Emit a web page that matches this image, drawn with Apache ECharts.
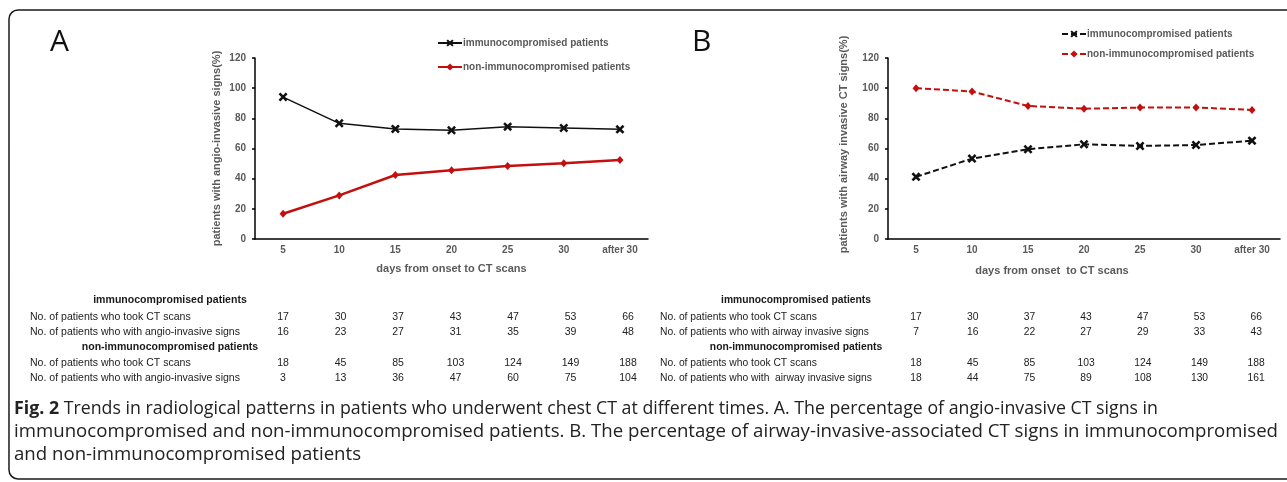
<!DOCTYPE html>
<html><head><meta charset="utf-8">
<script src="https://cdn.jsdelivr.net/npm/echarts/dist/echarts.min.js"></script>
<style>html,body{margin:0;padding:0;background:#fff}#c{width:1287px;height:482px}</style>
</head><body><div id="c"></div>
<script>
// ---------- data ----------
const categories = ['5', '10', '15', '20', '25', '30', 'after 30'];
const aImmuno = [94.1, 76.7, 73.0, 72.1, 74.5, 73.6, 72.7];
const aNonImmuno = [16.7, 28.9, 42.4, 45.6, 48.4, 50.3, 52.3];
const bImmuno = [41.2, 53.3, 59.5, 62.8, 61.7, 62.3, 65.2];
const bNonImmuno = [100, 97.8, 88.2, 86.4, 87.1, 87.2, 85.6];
const yMin = 0, yMax = 120, yStep = 20;
const seriesNames = ['immunocompromised patients', 'non-immunocompromised patients'];

const immunoCT = [17, 30, 37, 43, 47, 53, 66];
const aImmunoSigns = [16, 23, 27, 31, 35, 39, 48];
const nonCT = [18, 45, 85, 103, 124, 149, 188];
const aNonSigns = [3, 13, 36, 47, 60, 75, 104];
const bImmunoSigns = [7, 16, 22, 27, 29, 33, 43];
const bNonSigns = [18, 44, 75, 89, 108, 130, 161];

const tableA = [
  {head: 'immunocompromised patients'},
  {label: 'No. of patients who took CT scans', vals: immunoCT},
  {label: 'No. of patients who with angio-invasive signs', vals: aImmunoSigns},
  {head: 'non-immunocompromised patients'},
  {label: 'No. of patients who took CT scans', vals: nonCT},
  {label: 'No. of patients who with angio-invasive signs', vals: aNonSigns}
];
const tableB = [
  {head: 'immunocompromised patients'},
  {label: 'No. of patients who took CT scans', vals: immunoCT},
  {label: 'No. of patients who with airway invasive signs', vals: bImmunoSigns},
  {head: 'non-immunocompromised patients'},
  {label: 'No. of patients who took CT scans', vals: nonCT},
  {label: 'No. of patients who with  airway invasive signs', vals: bNonSigns}
];
const captionBold = 'Fig. 2';
const captionLines = [
  ' Trends in radiological patterns in patients who underwent chest CT at different times. A. The percentage of angio-invasive CT signs in',
  'immunocompromised and non-immunocompromised patients. B. The percentage of airway-invasive-associated CT signs in immunocompromised',
  'and non-immunocompromised patients'
];

// ---------- helpers ----------
const cv = document.createElement('canvas').getContext('2d');
function tw(text, font) { cv.font = font; return cv.measureText(text).width; }

const BLACK = '#111111', RED = '#c40f0f', GREY = '#5a5a5a';
const FONT = 'Liberation Sans, Arial, sans-serif';
const X_SYMBOL = 'path://M2,0L5,3L8,0L10,2L7,5L10,8L8,10L5,7L2,10L0,8L3,5L0,2Z';

const chart = echarts.init(document.getElementById('c'), null, {renderer: 'canvas'});

function xAxisCfg(gi, name, gap, pad) {
  return {
    type: 'category', gridIndex: gi, data: categories, boundaryGap: true,
    axisLine: {lineStyle: {color: '#000', width: 1.5}},
    axisTick: {inside: true, length: 3, lineStyle: {color: '#000', width: 1.5}},
    axisLabel: {color: GREY, fontSize: 10, fontWeight: 'bold', fontFamily: FONT, margin: 6},
    name: name, nameLocation: 'middle', nameGap: gap,
    nameTextStyle: {color: GREY, fontSize: 11, fontWeight: 'bold', fontFamily: FONT, padding: pad}
  };
}
function yAxisCfg(gi, name, gap, pad) {
  return {
    type: 'value', gridIndex: gi, min: yMin, max: yMax, interval: yStep,
    axisLine: {show: true, lineStyle: {color: '#000', width: 1.5}},
    axisTick: {show: true, length: 3, lineStyle: {color: '#000', width: 1.5}},
    splitLine: {show: false},
    axisLabel: {color: GREY, fontSize: 10, fontWeight: 'bold', fontFamily: FONT, margin: 9},
    name: name, nameLocation: 'middle', nameGap: gap,
    nameTextStyle: {color: GREY, fontSize: 11, fontWeight: 'bold', fontFamily: FONT, padding: pad}
  };
}
function lineSeries(name, gi, data, color, sym, symSize, width, dashed) {
  return {
    name: name, type: 'line', xAxisIndex: gi, yAxisIndex: gi, data: data,
    symbol: sym, symbolSize: symSize, showSymbol: true,
    lineStyle: {color: color, width: width, type: dashed ? [6, 3] : 'solid'},
    itemStyle: {color: color}, emphasis: {disabled: true}
  };
}

const legendText = {color: GREY, fontSize: 10, fontWeight: 'bold', fontFamily: FONT, lineHeight: 12,
                    padding: [0, 0, 0, -4]};

const option = {
  animation: false,
  backgroundColor: '#fff',
  grid: [
    {left: 255, top: 58, width: 393, height: 181},
    {left: 888, top: 58, width: 392, height: 181}
  ],
  xAxis: [xAxisCfg(0, 'days from onset to CT scans', 24, [0, 0, 0, 0]),
          xAxisCfg(1, 'days from onset  to CT scans', 26, [0, 64, 0, 0])],
  yAxis: [yAxisCfg(0, 'patients with angio-invasive signs(%)', 33, [0, 0, 0, 0]),
          yAxisCfg(1, 'patients with airway invasive CT signs(%)', 39, [0, 0, 0, 8])],
  legend: [
    {data: seriesNames.map(n => 'A:' + n), formatter: n => n.slice(2), orient: 'vertical',
     left: 432, top: 32, itemWidth: 24, itemHeight: 9, itemGap: 12, textStyle: legendText,
     selectedMode: false},
    {data: seriesNames.map(n => 'B:' + n), formatter: n => n.slice(2), orient: 'vertical',
     left: 1056, top: 23, itemWidth: 24, itemHeight: 9, itemGap: 8, textStyle: legendText,
     selectedMode: false}
  ],
  series: [
    lineSeries('A:' + seriesNames[0], 0, aImmuno, BLACK, X_SYMBOL, 9, 1.5, false),
    lineSeries('A:' + seriesNames[1], 0, aNonImmuno, RED, 'diamond', [7, 8], 2.5, false),
    lineSeries('B:' + seriesNames[0], 1, bImmuno, BLACK, X_SYMBOL, 9, 2, true),
    lineSeries('B:' + seriesNames[1], 1, bNonImmuno, RED, 'diamond', [7, 8], 2, true)
  ]
};
chart.setOption(option);

// ---------- graphics: frame, panel letters, tables, caption ----------
const g = [];
g.push({type: 'rect', shape: {x: 9, y: 10, width: 1320, height: 469, r: 9}, silent: true,
        style: {fill: 'none', stroke: '#1a1a1a', lineWidth: 1.5}});
g.push({type: 'text', x: 50, y: 27, style: {text: 'A', font: '30px "Open Sans", sans-serif', fill: '#111'}});
g.push({type: 'text', x: 692, y: 27, style: {text: 'B', font: '30px "Open Sans", sans-serif', fill: '#111'}});

const TFONT = '11px ' + FONT, TBFONT = 'bold 11px ' + FONT;
function addTable(rows, labelX, headCx, colX0, colStep, refLabel, refW) {
  const sx = refW / tw(refLabel, TFONT);
  const rowY = [300, 317, 332, 347, 363, 378];
  rows.forEach((r, i) => {
    if (r.head) {
      g.push({type: 'text', x: headCx, y: rowY[i], scaleX: sx,
        style: {text: r.head, font: TBFONT, fill: '#1a1a1a', align: 'center', verticalAlign: 'middle'}});
    } else {
      g.push({type: 'text', x: labelX, y: rowY[i], scaleX: sx,
        style: {text: r.label, font: TFONT, fill: '#222', align: 'left', verticalAlign: 'middle'}});
      r.vals.forEach((v, j) => {
        g.push({type: 'text', x: colX0 + j * colStep, y: rowY[i], scaleX: sx,
          style: {text: String(v), font: TFONT, fill: '#222', align: 'center', verticalAlign: 'middle'}});
      });
    }
  });
}
addTable(tableA, 30, 170, 283, 57.5, tableA[2].label, 210);
addTable(tableB, 660, 796, 916, 56.7, tableB[2].label, 209);

// caption
const CF = '18px "Open Sans", sans-serif', CBF = 'bold 18px "Open Sans", sans-serif';
const capTargets = [1144, 1264];
const w1 = tw(captionBold, CBF) + tw(captionLines[0], CF);
const s1 = capTargets[0] / w1;
const s2 = capTargets[1] / tw(captionLines[1], CF);
g.push({type: 'text', x: 14, y: 409, scaleX: s1, style: {
  text: '{b|' + captionBold + '}{r|' + captionLines[0] + '}', verticalAlign: 'middle',
  rich: {b: {font: CBF, fill: '#222'}, r: {font: CF, fill: '#222'}}}});
g.push({type: 'text', x: 14, y: 432, scaleX: s2, style: {text: captionLines[1], font: CF, fill: '#222', verticalAlign: 'middle'}});
g.push({type: 'text', x: 14, y: 455, scaleX: s2, style: {text: captionLines[2], font: CF, fill: '#222', verticalAlign: 'middle'}});

chart.setOption({graphic: g});
</script>
</body></html>
